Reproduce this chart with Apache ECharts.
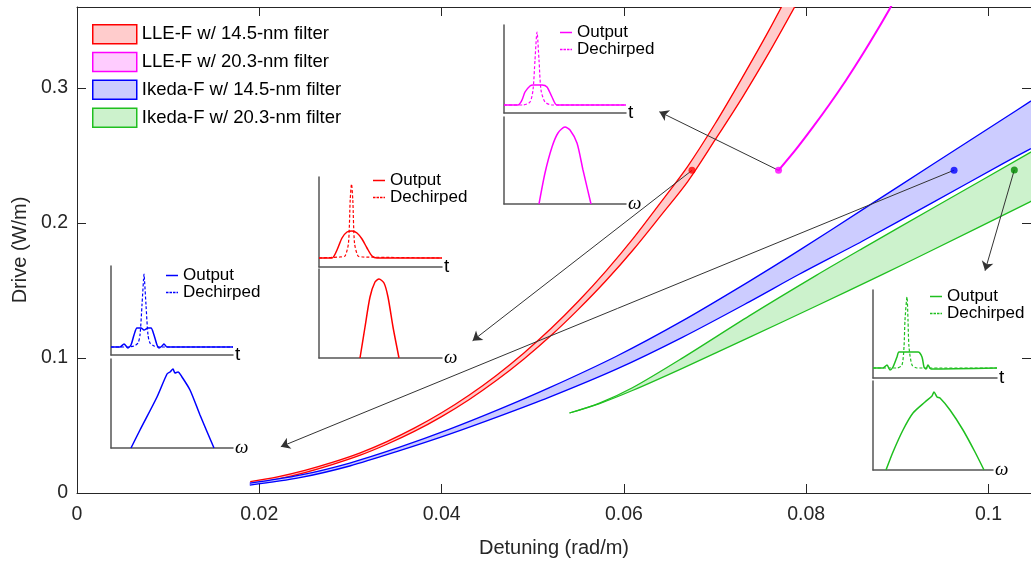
<!DOCTYPE html>
<html>
<head>
<meta charset="utf-8">
<script src="https://cdn.jsdelivr.net/npm/echarts@6/dist/echarts.min.js"></script>
<style>html,body{margin:0;padding:0;background:#fff;}#c{width:1031px;height:564px;}</style>
</head>
<body>
<div id="c"></div>
<script>
// ---------- main chart data: [detuning (rad/m), drive (W/m)] ----------
const lle145Upper = [[0.019,0.0084],[0.022,0.0120],[0.025,0.0168],[0.028,0.0227],[0.031,0.0296],[0.034,0.0381],[0.037,0.0480],[0.040,0.0594],[0.043,0.0724],[0.046,0.0871],[0.049,0.1036],[0.052,0.1218],[0.055,0.1420],[0.058,0.1642],[0.061,0.1884],[0.064,0.2149],[0.067,0.2420],[0.070,0.2735],[0.073,0.3079],[0.076,0.3438],[0.079,0.3821],[0.080,0.3955]];
const lle145Lower = [[0.019,0.0067],[0.022,0.0103],[0.025,0.0151],[0.028,0.0210],[0.031,0.0278],[0.034,0.0361],[0.037,0.0456],[0.040,0.0566],[0.043,0.0691],[0.046,0.0833],[0.049,0.0991],[0.052,0.1166],[0.055,0.1360],[0.058,0.1570],[0.061,0.1800],[0.064,0.2051],[0.067,0.2307],[0.070,0.2615],[0.073,0.2931],[0.076,0.3271],[0.079,0.3633],[0.080,0.3759]];
const lle203Line = [[0.07696,0.2390],[0.07887,0.2545],[0.08069,0.2706],[0.08252,0.2876],[0.08435,0.3056],[0.08617,0.3248],[0.088,0.3452],[0.08928,0.3601],[0.09019,0.3709]];
const ike145Upper = [[0.01896,0.00726],[0.02444,0.01319],[0.02992,0.02222],[0.0354,0.03393],[0.04088,0.04726],[0.04636,0.06207],[0.05184,0.078],[0.05918,0.1013],[0.06641,0.1275],[0.07375,0.1568],[0.07923,0.1797],[0.08614,0.2097],[0.09381,0.2431],[0.10148,0.2765],[0.10455,0.2899],[0.10608,0.2965]];
const ike145Lower = [[0.01896,0.00578],[0.02444,0.01133],[0.02992,0.02],[0.0354,0.03133],[0.04088,0.04356],[0.04636,0.05689],[0.05184,0.07096],[0.05918,0.0917],[0.06641,0.1153],[0.07375,0.1416],[0.07923,0.162],[0.08614,0.1865],[0.09381,0.2149],[0.10148,0.2436],[0.10455,0.2547],[0.10608,0.2599]];
const ike203Upper = [[0.05403,0.05926],[0.05732,0.06659],[0.06093,0.07793],[0.06641,0.09993],[0.07375,0.1312],[0.0811,0.1612],[0.08614,0.181],[0.09425,0.2124],[0.10455,0.2521],[0.10608,0.258]];
const ike203Lower = [[0.05403,0.05926],[0.05732,0.06626],[0.06093,0.07593],[0.06641,0.09237],[0.07375,0.1153],[0.0811,0.1385],[0.08833,0.1618],[0.09348,0.1787],[0.10455,0.2157],[0.10608,0.221]];
const markedPoints = [[0.06747,0.239],[0.07696,0.239],[0.09622,0.2391],[0.10283,0.2393]];
const arrowTips = [[0.0434,0.1128],[0.06389,0.2824],[0.02236,0.0343],[0.09962,0.1647]];
const legendNames = ['LLE-F w/ 14.5-nm filter','LLE-F w/ 20.3-nm filter','Ikeda-F w/ 14.5-nm filter','Ikeda-F w/ 20.3-nm filter'];

// ---------- inset data (arbitrary units): [t or ω, intensity] ----------
const blueOutT  = [[0,8],[9,8],[13,11],[17,7],[20,10],[23,20],[26,27],[30,27],[33,25],[37,27],[40,27],[43,20],[46,10],[48,7],[51,9],[53,11],[56,8],[64,8],[122,8]];
const blueDecT  = [[0,8],[17,8],[23,9],[27,12],[29,20],[31,50],[32.5,75],[33,81],[33.5,75],[35,50],[37,20],[39,12],[43,9],[49,8],[122,8]];
const blueSpec  = [[20,0],[29,18],[46,51],[56,74],[59,76],[62,79],[64,75],[67,76],[71,71],[79,58],[89,33],[103,0]];
const redOutT   = [[0,9],[13,9],[18,17],[23,29],[28,35],[33,36],[38,34],[43,28],[48,19],[53,11],[58,9],[123,9]];
const redDecT   = [[0,9],[21,10],[26,11],[29.5,24],[31.2,67],[32.5,83],[33.8,67],[35.5,24],[39,11],[44,10],[123,9]];
const redSpec   = [[41,0],[46,31],[51,61],[56,76],[60,79],[65,75],[69,61],[74,31],[80,0]];
const magOutT   = [[0,8],[14,8],[18,13],[21,21],[26,27],[29,28],[38,28],[43,26],[48,16],[53,8],[122,8]];
const magDecT   = [[0,8],[19,8],[26,11],[29,23],[31,53],[33,81],[35,53],[37,23],[41,11],[48,8],[122,8]];
const magSpec   = [[35,0],[41,31],[48,57],[54,71],[61,77],[66,74],[73,61],[79,34],[87,0]];
const grnOutT   = [[0,10],[10,10],[14,13],[17,8],[20,11],[24,21],[26,26],[45,26],[49,21],[51,11],[53,9],[55,13],[58,9],[124,10]];
const grnDecT   = [[0,10],[24,10],[29,13],[31,31],[32,58],[34,81],[35,58],[36,31],[39,13],[44,10],[124,10]];
const grnSpec   = [[13,0],[20,18],[30,40],[40,57],[52,68],[59,74],[61,78],[64,73],[67,72],[77,60],[90,40],[102,18],[111,0]];

// ---------- styling ----------
const FONT = 'Liberation Sans, Arial, Helvetica, sans-serif';
const AX = '#262626';
const C_RED = '#ff0000', C_MAG = '#ff00ff', C_BLUE = '#0000ff', C_GRN = '#1fbf1f';
const F_RED = '#ffcccc', F_MAG = '#ffccff', F_BLUE = '#ccccff', F_GRN = '#ccf2cc';
const dotColors = [C_RED, C_MAG, C_BLUE, '#008a00'];
const ICON_SOLID = 'path://M0,0h12v1.5h-12z';
const ICON_DASH = 'path://M0,0h2.5v1.4h-2.5z M3.5,0h2.5v1.4h-2.5z M7,0h2.5v1.4h-2.5z M10.5,0h1.5v1.4h-1.5z';

function bandSeries(name, upper, lower, stroke, fill) {
  return {
    type: 'custom', name: name, xAxisIndex: 0, yAxisIndex: 0, clip: true, z: 2,
    itemStyle: { color: fill }, data: [[0, 0]], silent: true,
    renderItem: function (params, api) {
      const up = upper.map(p => api.coord(p));
      const lo = lower.map(p => api.coord(p));
      return { type: 'group', children: [
        { type: 'polygon', shape: { points: up.concat(lo.slice().reverse()), smooth: 0.3 }, style: { fill: fill } },
        { type: 'polyline', shape: { points: up, smooth: 0.3 }, style: { stroke: stroke, lineWidth: 1.3, fill: null } },
        { type: 'polyline', shape: { points: lo, smooth: 0.3 }, style: { stroke: stroke, lineWidth: 1.3, fill: null } }
      ]};
    }
  };
}

// inset layout
const insets = [
  { key: 'A', color: C_BLUE, top: { left: 111, top: 266, width: 122, height: 89 }, bot: { left: 111, top: 359, width: 122, height: 89 }, out: blueOutT, dec: blueDecT, spec: blueSpec, leg: { left: 166, top: 267 } },
  { key: 'B', color: C_RED,  top: { left: 319, top: 177, width: 123, height: 90 }, bot: { left: 319, top: 269, width: 123, height: 89 }, out: redOutT, dec: redDecT, spec: redSpec, leg: { left: 373, top: 172 } },
  { key: 'C', color: C_MAG,  top: { left: 504, top: 25, width: 122, height: 88 }, bot: { left: 504, top: 117, width: 122, height: 87 }, out: magOutT, dec: magDecT, spec: magSpec, leg: { left: 560, top: 24 } },
  { key: 'D', color: C_GRN,  top: { left: 873, top: 290, width: 124, height: 88 }, bot: { left: 873, top: 381, width: 120, height: 89 }, out: grnOutT, dec: grnDecT, spec: grnSpec, leg: { left: 930, top: 288 } }
];

const grids = [{ left: 77, top: 7, width: 955, height: 486 }];
const xAxes = [
  { gridIndex: 0, type: 'value', min: 0, max: 0.10466, interval: 0.02, position: 'bottom',
    axisLine: { show: true, onZero: false, lineStyle: { color: AX, width: 1 } },
    axisTick: { show: true, inside: true, length: 9, lineStyle: { color: AX } },
    axisLabel: { show: true, margin: 12, fontSize: 19.5, color: AX, fontFamily: FONT, showMaxLabel: false },
    splitLine: { show: false },
    name: 'Detuning (rad/m)', nameLocation: 'middle', nameGap: 45,
    nameTextStyle: { fontSize: 20, color: AX, fontFamily: FONT } },
  { gridIndex: 0, type: 'value', min: 0, max: 0.10466, interval: 0.02, position: 'top',
    axisLine: { show: true, onZero: false, lineStyle: { color: AX, width: 1 } },
    axisTick: { show: true, inside: true, length: 9, lineStyle: { color: AX } },
    axisLabel: { show: false }, splitLine: { show: false } }
];
const yAxes = [
  { gridIndex: 0, type: 'value', min: 0, max: 0.36, interval: 0.1, position: 'left',
    axisLine: { show: true, onZero: false, lineStyle: { color: AX, width: 1 } },
    axisTick: { show: true, inside: true, length: 9, lineStyle: { color: AX } },
    axisLabel: { show: true, margin: 9, fontSize: 19.5, color: AX, fontFamily: FONT, showMaxLabel: false },
    splitLine: { show: false },
    name: 'Drive (W/m)', nameLocation: 'middle', nameGap: 45,
    nameTextStyle: { fontSize: 20, color: AX, fontFamily: FONT } },
  { gridIndex: 0, type: 'value', min: 0, max: 0.36, interval: 0.1, position: 'right',
    axisLine: { show: true, onZero: false, lineStyle: { color: AX, width: 1 } },
    axisTick: { show: true, inside: true, length: 9, lineStyle: { color: AX } },
    axisLabel: { show: false }, splitLine: { show: false } }
];

const series = [
  bandSeries(legendNames[0], lle145Upper, lle145Lower, C_RED, F_RED),
  bandSeries(legendNames[2], ike145Upper, ike145Lower, C_BLUE, F_BLUE),
  bandSeries(legendNames[3], ike203Upper, ike203Lower, C_GRN, F_GRN),
  { type: 'line', name: legendNames[1], xAxisIndex: 0, yAxisIndex: 0, data: lle203Line, showSymbol: false, symbol: 'none',
    smooth: 0.3, lineStyle: { color: C_MAG, width: 2 }, itemStyle: { color: C_MAG }, z: 3, silent: true },
  { type: 'lines', coordinateSystem: 'cartesian2d', xAxisIndex: 0, yAxisIndex: 0, symbol: ['none', 'arrow'], symbolSize: 9,
    lineStyle: { color: '#333', width: 1, opacity: 1, curveness: 0 }, itemStyle: { color: '#333' },
    data: markedPoints.map((p, i) => ({ coords: [p, arrowTips[i]] })), z: 5, silent: true },
  { type: 'scatter', name: 'points', xAxisIndex: 0, yAxisIndex: 0, symbolSize: 7, z: 6, silent: true,
    data: markedPoints.map((p, i) => ({ value: p, itemStyle: { color: dotColors[i] } })) }
];

const legends = [{
  show: true, orient: 'vertical', left: 92, top: 24, itemWidth: 44, itemHeight: 19, itemGap: 7.3, padding: 0,
  selectedMode: false,
  textStyle: { fontSize: 18.5, color: '#000', fontFamily: FONT },
  data: [
    { name: legendNames[0], icon: 'rect', itemStyle: { color: F_RED, borderColor: C_RED, borderWidth: 1.5 } },
    { name: legendNames[1], icon: 'rect', itemStyle: { color: F_MAG, borderColor: C_MAG, borderWidth: 1.5 } },
    { name: legendNames[2], icon: 'rect', itemStyle: { color: F_BLUE, borderColor: C_BLUE, borderWidth: 1.5 } },
    { name: legendNames[3], icon: 'rect', itemStyle: { color: F_GRN, borderColor: C_GRN, borderWidth: 1.5 } }
  ]
}];

insets.forEach(function (ins) {
  const gTop = grids.length; grids.push(ins.top);
  const gBot = grids.length; grids.push(ins.bot);
  const axLine = { show: true, onZero: false, lineStyle: { color: '#555', width: 1.5 } };
  [[gTop, ins.top, 't', 'normal', 'Liberation Sans'], [gBot, ins.bot, 'ω', 'italic', 'Liberation Serif']].forEach(function (a) {
    xAxes.push({ gridIndex: a[0], type: 'value', min: 0, max: a[1].width, axisLine: axLine,
      axisTick: { show: false }, axisLabel: { show: false }, splitLine: { show: false },
      name: a[2], nameLocation: 'end', nameGap: 2,
      nameTextStyle: { fontSize: 19, color: '#000', fontStyle: a[3], fontFamily: a[4] } });
    yAxes.push({ gridIndex: a[0], type: 'value', min: 0, max: a[1].height, axisLine: axLine,
      axisTick: { show: false }, axisLabel: { show: false }, splitLine: { show: false } });
  });
  const xi = xAxes.length - 2, yi = yAxes.length - 2;
  const outName = 'Output|' + ins.key, decName = 'Dechirped|' + ins.key;
  series.push({ type: 'line', name: outName, xAxisIndex: xi, yAxisIndex: yi, data: ins.out, symbol: 'none', smooth: 0.25,
    lineStyle: { color: ins.color, width: 1.5 }, itemStyle: { color: ins.color }, z: 4, silent: true });
  series.push({ type: 'line', name: decName, xAxisIndex: xi, yAxisIndex: yi, data: ins.dec, symbol: 'none', smooth: 0.25,
    lineStyle: { color: ins.color, width: 1.2, type: [3, 2] }, itemStyle: { color: ins.color }, z: 4, silent: true });
  series.push({ type: 'line', name: 'Spectrum|' + ins.key, xAxisIndex: xi + 1, yAxisIndex: yi + 1, data: ins.spec, symbol: 'none', smooth: 0.25,
    lineStyle: { color: ins.color, width: 1.5 }, itemStyle: { color: ins.color }, z: 4, silent: true });
  legends.push({ show: true, orient: 'vertical', left: ins.leg.left, top: ins.leg.top, padding: 0,
    itemWidth: 12, itemHeight: 17, itemGap: 0, selectedMode: false,
    formatter: function (n) { return n.split('|')[0]; },
    textStyle: { fontSize: 17, lineHeight: 17, color: '#000', fontFamily: FONT },
    data: [
      { name: outName, icon: ICON_SOLID, itemStyle: { color: ins.color, borderWidth: 0 } },
      { name: decName, icon: ICON_DASH, itemStyle: { color: ins.color, borderWidth: 0 } }
    ] });
});

const chart = echarts.init(document.getElementById('c'), null, { renderer: 'canvas' });
chart.setOption({
  animation: false,
  backgroundColor: '#fff',
  textStyle: { fontFamily: FONT },
  grid: grids, xAxis: xAxes, yAxis: yAxes, legend: legends, series: series
});
</script>
</body>
</html>
